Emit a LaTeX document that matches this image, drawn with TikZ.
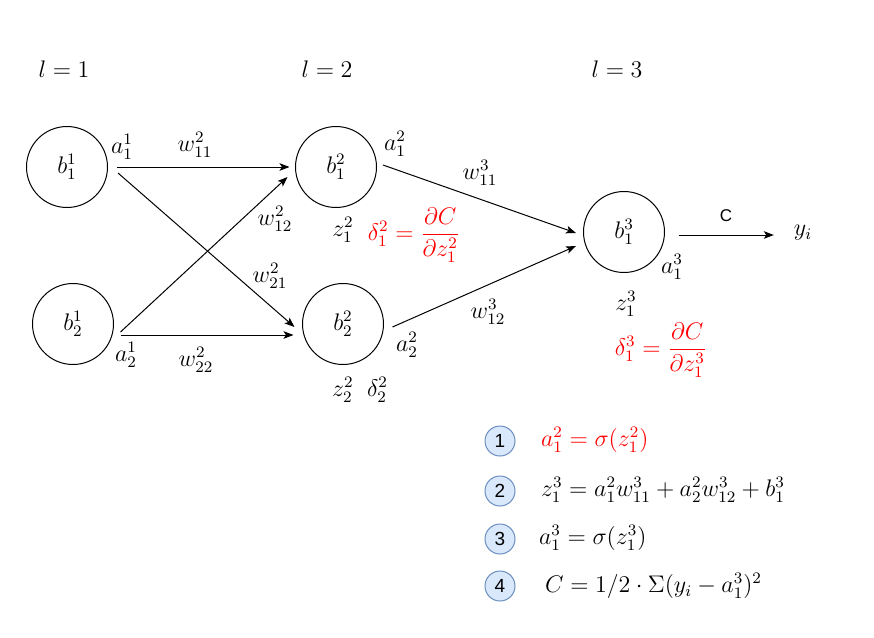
\documentclass[tikz,border=0pt]{standalone}
\usepackage{amsmath,amssymb}
\usepackage{fontspec}
\newfontfamily\helv{Liberation Sans}
\usepackage{xcolor}
\usepackage{tikz}
\usetikzlibrary{positioning}
\usetikzlibrary{arrows.meta}
\usetikzlibrary{calc}

\definecolor{badgefill}{HTML}{DAE8FC}
\definecolor{badgeline}{HTML}{6C8EBF}

\tikzset{
  neuron/.style={circle, draw, line width=0.5pt, minimum size=40.5pt, inner sep=0pt},
  wire/.style={-{Stealth[length=5pt,width=3.8pt,inset=1.2pt]}, line width=0.5pt},
  badge/.style={circle, draw=badgeline, fill=badgefill, line width=0.5pt, minimum size=15pt, inner sep=0pt, font=\helv\fontsize{9.5}{11}\selectfont},
}

\begin{document}
\begin{tikzpicture}[x=0.5pt, y=-0.5pt, font=\fontsize{12}{14}\selectfont]
            \useasboundingbox (0,0) rectangle (874,638);

            % Layer labels
            \node (l1) at (64,69) {$l=1$};
            \node (l2) at (327,69) {$l=2$};
            \node (l3) at (617,69) {$l=3$};

            % Neurons
            \node[neuron] (b11) at (67,167) {$b^1_1$};
            \node[neuron] (b21) at (73,324) {$b^1_2$};
            \node[neuron] (b12) at (336,167) {$b^2_1$};
            \node[neuron] (b22) at (343,324) {$b^2_2$};
            \node[neuron] (b13) at (624,232) {$b^3_1$};
            \node (yi) at (803,233) {$y_i$};

            \draw[wire] ($(b11.east)+(9,0)$) -- ($(b12.west)+(-5.5,0)$);
            \draw[wire] ($(b11.east)+(10,6)$) -- ($(b22.west)+(-7.5,3)$);
            \draw[wire] ($(b21.east)+(6.5,8)$) -- ($(b12.west)+(-7.5,10)$);
            \draw[wire] ($(b21.east)+(6.5,11)$) -- ($(b22.west)+(-8.5,11)$);
            \draw[wire] ($(b12.east)+(6,-2)$) -- ($(b13.west)+(-7,1)$);
            \draw[wire] ($(b22.east)+(8.5,3)$) -- ($(b13.west)+(-7,14)$);
            \draw[wire] ($(b13.east)+(13.5,3)$) -- ($(yi.west)+(-13,2)$);

            % Edge and neuron labels
            \node (a11) at (122,147) {$a^1_1$};
            \node (w211) at (195,145) {$w^2_{11}$};
            \node (w212) at (275,219) {$w^2_{12}$};
            \node (w221) at (270,276) {$w^2_{21}$};
            \node (a21) at (126,355) {$a^1_2$};
            \node (w222) at (196,360) {$w^2_{22}$};
            \node (a12) at (395,144) {$a^2_1$};
            \node (w311) at (480,173) {$w^3_{11}$};
            \node (z12) at (343,230) {$z^2_1$};
            \node[text=red] (d12) at (414,235) {$\delta^2_1=\dfrac{\partial C}{\partial z^2_1}$};
            \node (a22) at (407,345) {$a^2_2$};
            \node (w312) at (488,312) {$w^3_{12}$};
            \node (zd22) at (360,390) {$z^2_2\;\;\delta^2_2$};
            \node (a13) at (672,267) {$a^3_1$};
            \node (z13) at (626,304) {$z^3_1$};
            \node[text=red] (d13) at (661,350) {$\delta^3_1=\dfrac{\partial C}{\partial z^3_1}$};
            \node[font=\helv\fontsize{8.5}{10}\selectfont] (cost) at (726,216) {C};

            % Steps
            \node[badge] (s1) at (500,441) {1};
            \node[badge] (s2) at (500,491) {2};
            \node[badge] (s3) at (500,539) {3};
            \node[badge] (s4) at (500,586) {4};
            \node[anchor=west, text=red] (e1) at (534,440) {$a^2_1=\sigma(z^2_1)$};
            \node[anchor=west] (e2) at (534,490) {$z^3_1=a^2_1w^3_{11}+a^2_2w^3_{12}+b^3_1$};
            \node[anchor=west] (e3) at (532,538) {$a^3_1=\sigma(z^3_1)$};
            \node[anchor=west] (e4) at (538,586) {$C=1/2\cdot\Sigma(y_i-a^3_1)^2$};
        \end{tikzpicture}
\end{document}
